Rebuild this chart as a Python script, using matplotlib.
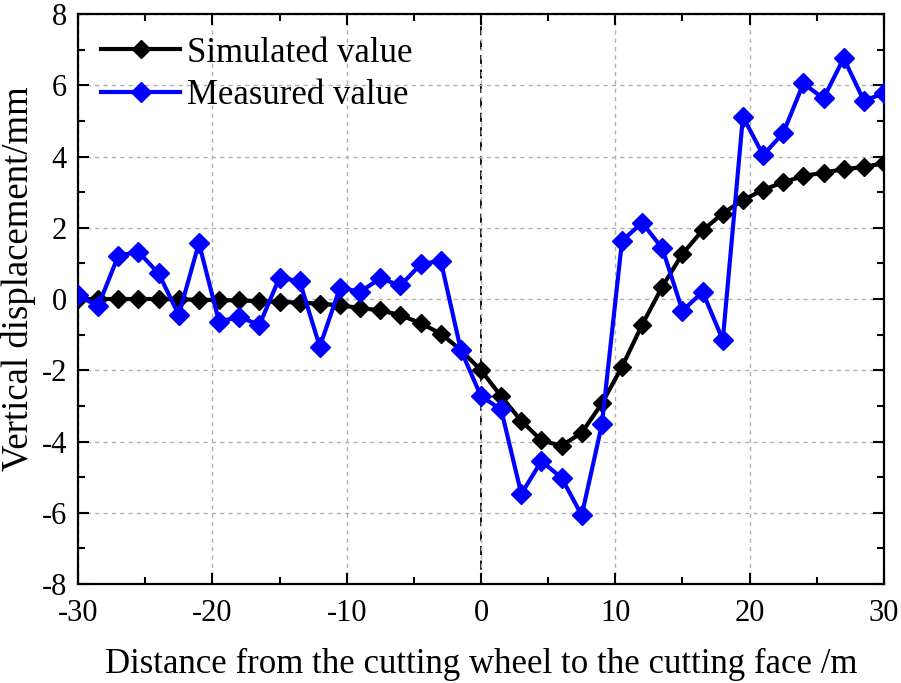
import matplotlib
matplotlib.use("Agg")
import matplotlib.pyplot as plt
from matplotlib.ticker import MultipleLocator

plt.rcParams['font.family'] = ['Liberation Serif', 'DejaVu Serif']
plt.rcParams['axes.unicode_minus'] = False

# distance from cutting wheel to cutting face (m)
dist = [-30, -28.5, -27, -25.5, -24, -22.5, -21, -19.5, -18, -16.5, -15,
        -13.5, -12, -10.5, -9, -7.5, -6, -4.5, -3, -1.5, 0, 1.5, 3, 4.5, 6,
        7.5, 9, 10.5, 12, 13.5, 15, 16.5, 18, 19.5, 21, 22.5, 24, 25.5, 27,
        28.5, 30]

simulated = [0.0, 0.0, 0.0, 0.0, 0.0, -0.01, -0.02, -0.03, -0.04, -0.06, -0.08,
             -0.1, -0.13, -0.18, -0.25, -0.32, -0.45, -0.68, -0.97, -1.43, -2.0,
             -2.73, -3.42, -3.97, -4.12, -3.75, -2.93, -1.9, -0.72, 0.35, 1.27,
             1.93, 2.4, 2.78, 3.06, 3.28, 3.45, 3.55, 3.64, 3.71, 3.81]

measured = [0.1, -0.2, 1.22, 1.32, 0.72, -0.45, 1.57, -0.64, -0.5, -0.73, 0.6,
            0.5, -1.34, 0.32, 0.2, 0.58, 0.38, 0.97, 1.08, -1.43, -2.73,
            -3.1, -5.47, -4.55, -5.02, -6.07, -3.52, 1.64, 2.14, 1.42, -0.33,
            0.2, -1.15, 5.12, 4.04, 4.66, 6.05, 5.63, 6.76, 5.57, 5.77]

fig = plt.figure(figsize=(9.01, 6.83), dpi=100)
ax = fig.add_axes([0.0866, 0.1449, 0.8945, 0.8346])

ax.grid(True, color='#b0b0b0', linestyle=(0, (3, 3)), linewidth=1.0)
ax.axvline(0, color='black', linestyle=(0, (5, 3)), linewidth=1.3, zorder=1.5)

ax.plot(dist, simulated, color='black', lw=3, marker='D', ms=9,
        label='Simulated value', zorder=3)
ax.plot(dist, measured, color='#0000ff', lw=3, marker='D', ms=10.5,
        label='Measured value', zorder=4)

ax.set_xlim(-30, 30)
ax.set_ylim(-8, 8)
ax.xaxis.set_major_locator(MultipleLocator(10))
ax.xaxis.set_minor_locator(MultipleLocator(5))
ax.yaxis.set_major_locator(MultipleLocator(2))
ax.yaxis.set_minor_locator(MultipleLocator(1))
ax.tick_params(which='both', direction='in', top=True, right=True,
               width=1.5, labelsize=22)
ax.tick_params(axis='x', pad=11)
ax.tick_params(axis='y', pad=8)
ax.tick_params(which='major', length=8)
ax.tick_params(which='minor', length=5)
for s in ax.spines.values():
    s.set_linewidth(1.6)

ax.set_xlabel('Distance from the cutting wheel to the cutting face /m',
              fontsize=25, labelpad=14)
ax.set_ylabel('Vertical displacement/mm', fontsize=26.5)
ax.yaxis.set_label_coords(-0.052, 0.535)

ax.legend(loc='upper left', frameon=False, fontsize=25, handlelength=2.3,
          handletextpad=0.2, labelspacing=0.28, borderaxespad=0.25,
          borderpad=0.4)

fig.savefig('out.png', dpi=100)
